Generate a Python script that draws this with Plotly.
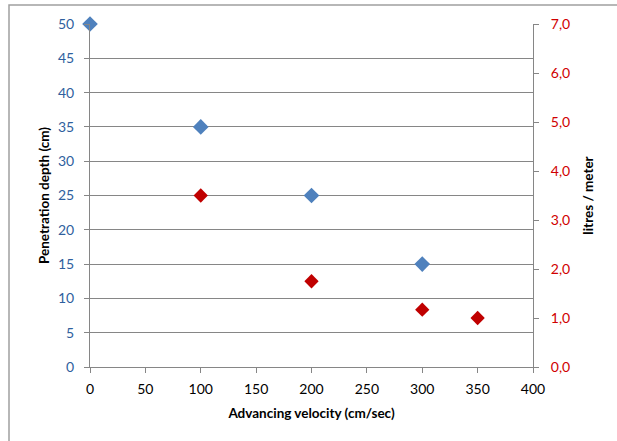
import plotly.graph_objects as go

velocity_depth = [0, 100, 200, 300]
depth_cm = [50, 35, 25, 15]
velocity_litres = [100, 200, 300, 350]
litres_per_meter = [3.5, 1.75, 1.17, 1.0]

left_ticks = list(range(0, 55, 5))
right_ticks = [0, 1, 2, 3, 4, 5, 6, 7]
right_labels = ["0,0", "1,0", "2,0", "3,0", "4,0", "5,0", "6,0", "7,0"]
x_ticks = list(range(0, 450, 50))

fig = go.Figure()
fig.add_trace(go.Scatter(x=velocity_depth, y=depth_cm, mode="markers",
                         marker=dict(symbol="diamond", size=12, color="#4F81BD",
                                     line=dict(width=0)),
                         showlegend=False, cliponaxis=False))
fig.add_trace(go.Scatter(x=velocity_litres, y=litres_per_meter, mode="markers", yaxis="y2",
                         marker=dict(symbol="diamond", size=11, color="#C00000",
                                     line=dict(width=0)),
                         showlegend=False, cliponaxis=False))

font_family = "Lato, Carlito, Calibri, sans-serif"
fig.update_layout(
    width=617, height=441,
    margin=dict(l=90, r=84, t=24, b=74),
    paper_bgcolor="white", plot_bgcolor="white",
    font=dict(family=font_family, size=14, color="black"),
    xaxis=dict(range=[0, 400], tickvals=x_ticks, showgrid=False, zeroline=False,
               showline=True, linecolor="#868686", linewidth=1,
               ticks="outside", ticklen=5, tickcolor="#868686", ticklabelstandoff=4,
               tickfont=dict(size=14, color="black"),
               title=dict(text="<b>Advancing velocity (cm/sec)</b>", font=dict(size=13.5), standoff=12)),
    yaxis=dict(range=[0, 50], tickvals=left_ticks, showgrid=True, gridcolor="#868686",
               zeroline=False, showline=True, linecolor="#868686", linewidth=1,
               ticks="outside", ticklen=5, tickcolor="#868686", ticklabelstandoff=7,
               tickfont=dict(size=14, color="#2F5F9E"),
               title=dict(text="<b>Penetration depth (cm)</b>", font=dict(size=13.5), standoff=5)),
    yaxis2=dict(range=[0, 7], tickvals=right_ticks, ticktext=right_labels,
                overlaying="y", side="right", showgrid=False, zeroline=False,
                showline=True, linecolor="#868686", linewidth=1,
                ticks="outside", ticklen=5, tickcolor="#868686", ticklabelstandoff=9,
                tickfont=dict(size=14, color="#D00000"),
                title=dict(text="<b>litres / meter</b>", font=dict(size=13.5), standoff=14)),
    shapes=[dict(type="rect", xref="paper", yref="paper",
                 x0=(9 - 90) / 443, x1=1.3, y0=-0.3, y1=1 + (24 - 5) / 343,
                 line=dict(color="#A0A0A0", width=1.5), fillcolor="rgba(0,0,0,0)", layer="below")],
)
fig.write_html("out.html")
